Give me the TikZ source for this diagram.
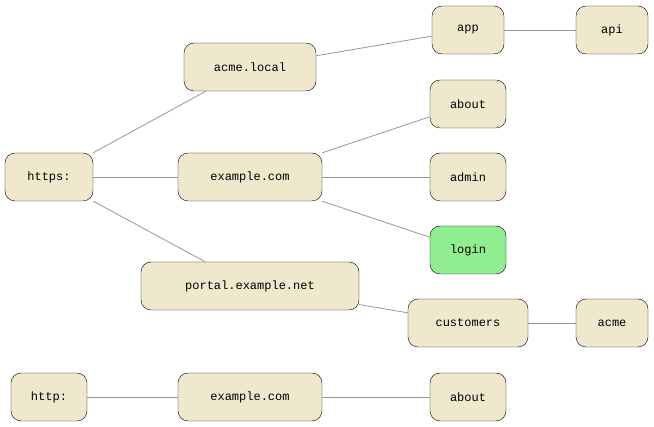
\documentclass[tikz,border=0pt]{standalone}
\usepackage{fontspec}
\setmonofont{Liberation Mono}
\begin{document}
\begin{tikzpicture}[x=1pt,y=-1pt,
  box/.style={draw=black,fill={rgb,255:red,239;green,232;blue,205},rounded corners=10pt,minimum height=48pt,inner xsep=8pt,font=\ttfamily\fontsize{12}{14}\selectfont},
  edge/.style={draw={rgb,255:red,150;green,150;blue,150},line width=0.8pt}]
\useasboundingbox (0,0) rectangle (654,427);
\node[box,minimum width=88pt] (https) at (49,177) {https:};
\node[box,minimum width=132pt] (acme) at (250,67) {acme.local};
\node[box,minimum width=144pt] (ex) at (250,177) {example.com};
\node[box,minimum width=218pt] (portal) at (250,286) {portal.example.net};
\node[box,minimum width=72pt] (app) at (468,30) {app};
\node[box,minimum width=72pt] (api) at (612,30) {api};
\node[box,minimum width=76pt] (about) at (468,104) {about};
\node[box,minimum width=76pt] (admin) at (468,177) {admin};
\node[box,minimum width=76pt,fill={rgb,255:red,144;green,238;blue,144}] (login) at (468,250) {login};
\node[box,minimum width=120pt] (cust) at (468,323) {customers};
\node[box,minimum width=72pt] (acmeb) at (612,323) {acme};
\node[box,minimum width=76pt] (http) at (49,397) {http:};
\node[box,minimum width=144pt] (ex2) at (250,397) {example.com};
\node[box,minimum width=76pt] (about2) at (468,397) {about};
\draw[edge] (https.north east) -- (acme);
\draw[edge] (https) -- (ex);
\draw[edge] (https.south east) -- (portal);
\draw[edge] (acme) -- (app);
\draw[edge] (app) -- (api);
\draw[edge] (ex.north east) -- (about);
\draw[edge] (ex) -- (admin);
\draw[edge] (ex.south east) -- (login);
\draw[edge] (portal) -- (cust);
\draw[edge] (cust) -- (acmeb);
\draw[edge] (http) -- (ex2);
\draw[edge] (ex2) -- (about2);
\end{tikzpicture}
\end{document}
